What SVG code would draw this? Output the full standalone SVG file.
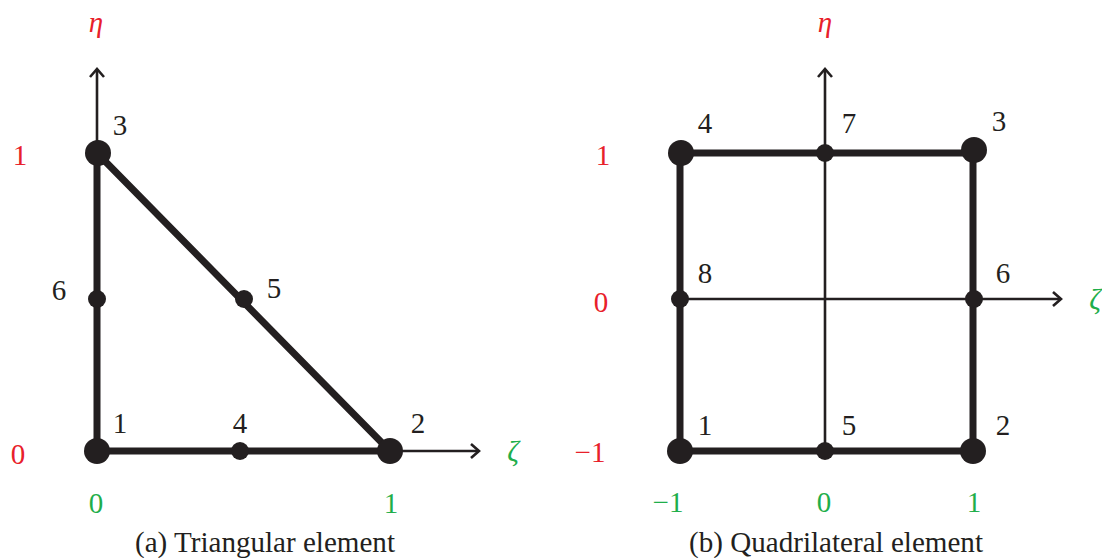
<svg xmlns="http://www.w3.org/2000/svg" width="1102" height="558" viewBox="0 0 1102 558" font-family="Liberation Serif, DejaVu Serif, serif">
<style>
.edge{stroke:#231f20;stroke-width:7;fill:none;stroke-linecap:round}
.axis{stroke:#231f20;stroke-width:2.6;fill:none}
.big{fill:#231f20}
text{font-family:"Liberation Serif","DejaVu Serif",serif}
.t{font-size:29px;fill:#231f20;text-anchor:middle}
.r{fill:#e8202a}
.g{fill:#1fae4b}
.gk{font-style:italic}
</style>
<defs>
<marker id="arr" markerWidth="16" markerHeight="16" refX="12" refY="8" orient="auto" markerUnits="userSpaceOnUse">
<path d="M4,1 L12,8 L4,15" fill="none" stroke="#231f20" stroke-width="2.6"/>
</marker>
</defs>
<g id="connectors">
<line class="axis" x1="97" y1="153" x2="97" y2="69" marker-end="url(#arr)"/>
<line class="axis" x1="390" y1="451" x2="479" y2="451" marker-end="url(#arr)"/>
<line class="edge" x1="97" y1="153" x2="97" y2="451"/>
<line class="edge" x1="97" y1="451" x2="390" y2="451"/>
<line class="edge" x1="97" y1="153" x2="390" y2="451"/>
<line class="axis" x1="825" y1="451" x2="825" y2="69" marker-end="url(#arr)"/>
<line class="axis" x1="680" y1="299" x2="1061" y2="299" marker-end="url(#arr)"/>
<polyline class="edge" points="680,153 973,153 973,451 680,451 680,153"/>
</g>
<g id="tri-node1"><circle class="big" cx="97" cy="451" r="13"/><text class="t" x="120" y="433">1</text></g>
<g id="tri-node2"><circle class="big" cx="390" cy="451" r="13"/><text class="t" x="418" y="433">2</text></g>
<g id="tri-node3"><circle class="big" cx="98" cy="153" r="13"/><text class="t" x="120" y="135">3</text></g>
<g id="tri-node4"><circle class="big" cx="240" cy="451" r="9"/><text class="t" x="240" y="433">4</text></g>
<g id="tri-node5"><circle class="big" cx="244" cy="299" r="9"/><text class="t" x="274" y="298">5</text></g>
<g id="tri-node6"><circle class="big" cx="97" cy="299" r="9"/><text class="t" x="59" y="300">6</text></g>
<g id="tri-labels">
<text class="t r gk" x="96" y="32">η</text>
<text class="t g gk" x="513" y="461">ζ</text>
<text class="t r" x="20" y="165">1</text>
<text class="t r" x="18" y="464">0</text>
<text class="t g" x="96" y="513">0</text>
<text class="t g" x="391" y="513">1</text>
<text class="t" x="265" y="552" textLength="260" lengthAdjust="spacingAndGlyphs">(a) Triangular element</text>
</g>
<g id="quad-node1"><circle class="big" cx="680" cy="451" r="13"/><text class="t" x="705" y="435">1</text></g>
<g id="quad-node2"><circle class="big" cx="973" cy="451" r="13"/><text class="t" x="1003" y="435">2</text></g>
<g id="quad-node3"><circle class="big" cx="974" cy="150" r="13"/><text class="t" x="999" y="131">3</text></g>
<g id="quad-node4"><circle class="big" cx="681" cy="153" r="13"/><text class="t" x="705" y="133">4</text></g>
<g id="quad-node5"><circle class="big" cx="825" cy="451" r="9"/><text class="t" x="849" y="435">5</text></g>
<g id="quad-node6"><circle class="big" cx="974" cy="299" r="9"/><text class="t" x="1003" y="283">6</text></g>
<g id="quad-node7"><circle class="big" cx="825" cy="153" r="9"/><text class="t" x="849" y="133">7</text></g>
<g id="quad-node8"><circle class="big" cx="680" cy="299" r="9"/><text class="t" x="705" y="283">8</text></g>
<g id="quad-labels">
<text class="t r gk" x="825" y="32">η</text>
<text class="t g gk" x="1095" y="309">ζ</text>
<text class="t r" x="603" y="165">1</text>
<text class="t r" x="601" y="312">0</text>
<text class="t r" x="590" y="462">−1</text>
<text class="t g" x="668" y="512">−1</text>
<text class="t g" x="824" y="512">0</text>
<text class="t g" x="974" y="512">1</text>
<text class="t" x="836" y="552" textLength="294" lengthAdjust="spacingAndGlyphs">(b) Quadrilateral element</text>
</g>
</svg>
